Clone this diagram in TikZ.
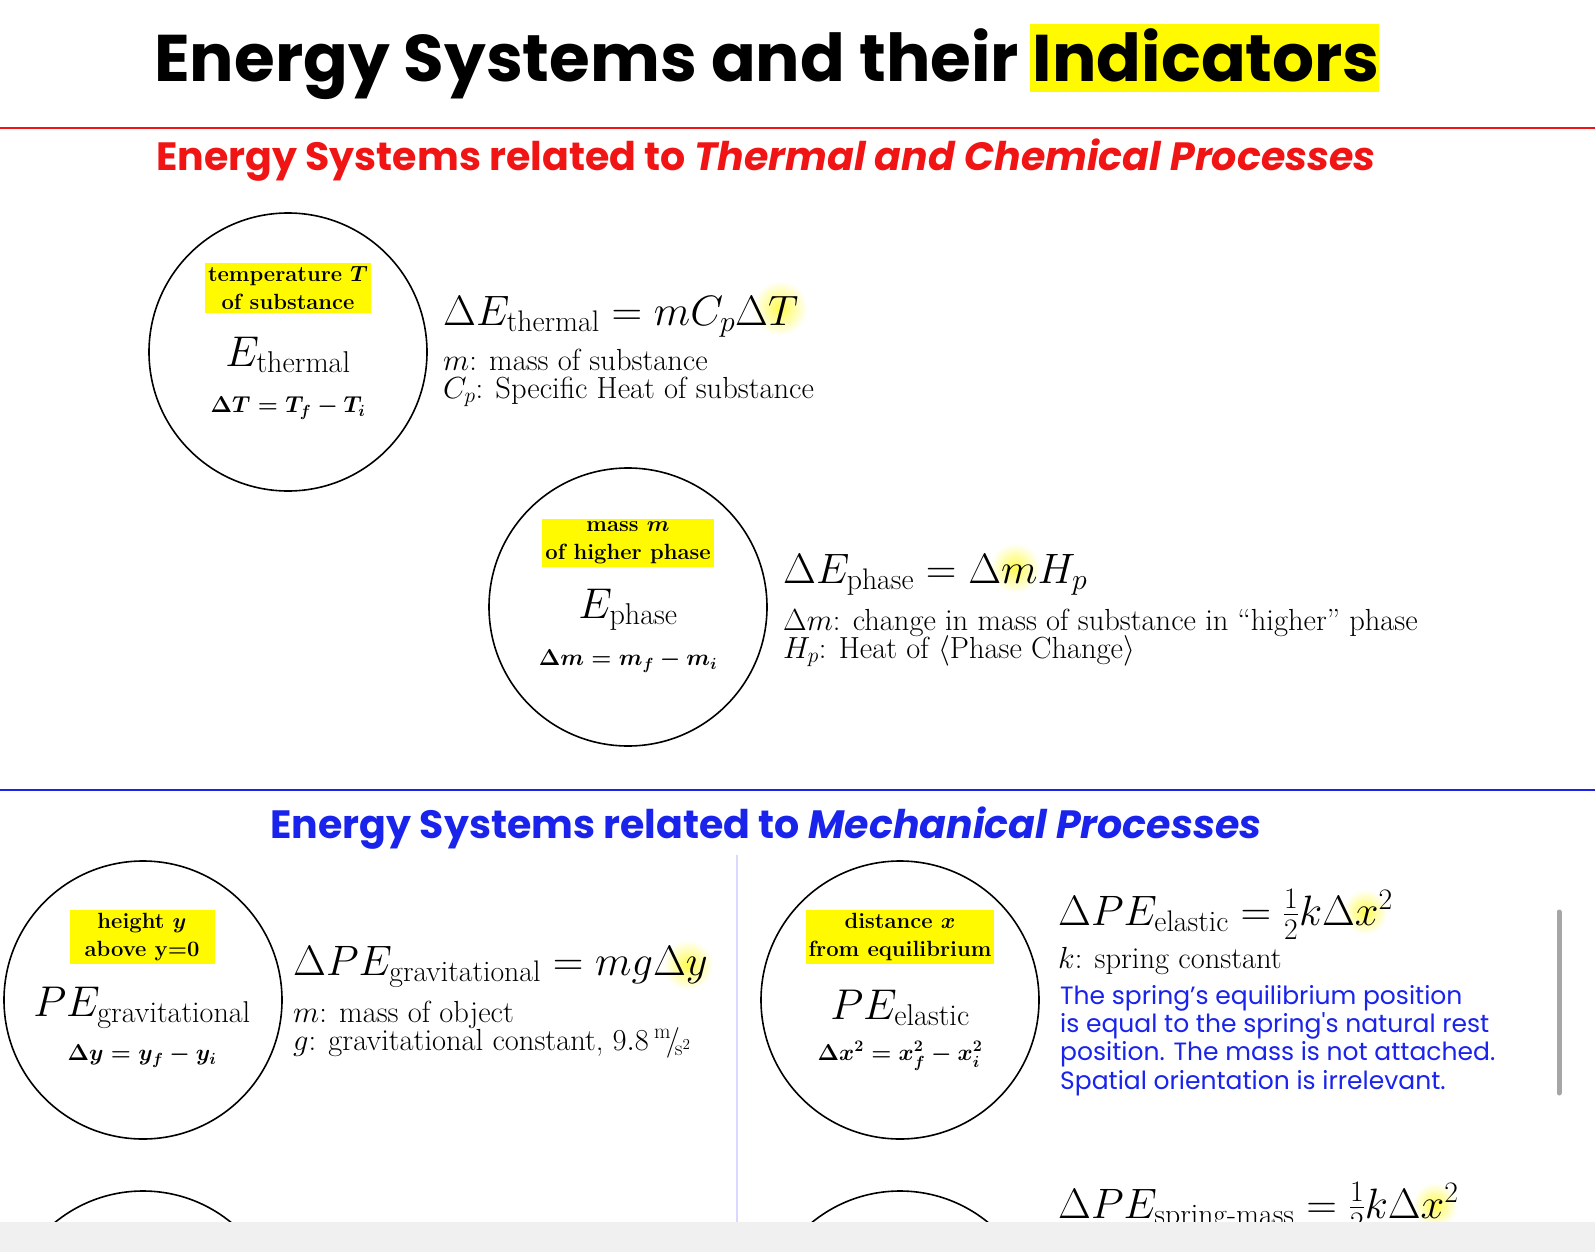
\RequirePackage{fix-cm}
\documentclass[tikz,border=0pt]{standalone}
\usepackage{amsmath}
\usepackage{fontspec}
\newfontfamily\pop{Poppins}
\usetikzlibrary{calc}
\definecolor{hl}{RGB}{255,250,0}
\definecolor{tred}{RGB}{240,20,20}
\definecolor{tblue}{RGB}{25,35,235}
\tikzset{
 circ/.style={draw=black,line width=1.6pt,circle,minimum size=278pt,inner sep=0pt},
 lab/.style={fill=hl,align=center,font=\fontsize{22}{28}\selectfont\bfseries,inner sep=3pt},
 big/.style={font=\fontsize{43}{48}\selectfont},
 small/.style={font=\fontsize{23}{26}\selectfont\boldmath},
 eqn/.style={anchor=base west,font=\fontsize{42.5}{48}\selectfont,inner sep=0pt},
 desc/.style={anchor=base west,font=\fontsize{30.5}{34}\selectfont,inner sep=0pt},
 glow/.style={shading=radial,inner color=hl!70,outer color=white,circle,minimum size=#1,inner sep=0pt},
 bluet/.style={anchor=base west,font=\pop\fontsize{25}{30}\selectfont,text=tblue,inner sep=0pt}
}
\begin{document}
\begin{tikzpicture}[x=1pt,y=-1pt]
\useasboundingbox (0,0) rectangle (1595,1252);
\fill[white] (0,0) rectangle (1595,1252);
% title
\fill[hl] (1030,24) rectangle (1379,92);
\node[anchor=base,inner sep=0pt,font=\pop\bfseries\fontsize{66}{70}\selectfont] (title) at (767,82) {Energy Systems and their Indicators};
\draw[tred,line width=2.5pt] (0,128) -- (1595,128);
\node[anchor=base,inner sep=0pt,text=tred,font=\pop\bfseries\fontsize{39.5}{44}\selectfont] (sub1) at (766,171) {Energy Systems related to \textit{Thermal and Chemical Processes}};
\draw[tblue,line width=2.5pt] (0,790) -- (1595,790);
\node[anchor=base,inner sep=0pt,text=tblue,font=\pop\bfseries\fontsize{39.5}{44}\selectfont] (sub2) at (766,838) {Energy Systems related to \textit{Mechanical Processes}};
\draw[blue!15,line width=2pt] (737,855) -- (737,1222);
% thermal
\node[circ] (c1) at (288,352) {};
\node[lab] (l1) at (288,288) {temperature $\boldsymbol{T}$\\of substance};
\node[big] (e1) at (288,355) {$E_{\text{thermal}}$};
\node[small] (f1) at (288,408) {$\Delta T = T_f - T_i$};
\node[glow=55pt] (g1) at (780,308) {};
\node[eqn] (q1) at (443,325) {$\Delta E_{\text{thermal}} = mC_p\Delta T$};
\node[desc] (d1) at (443,370) {$m$: mass of substance};
\node[desc] (d2) at (443,398) {$C_p$: Specific Heat of substance};
% phase
\node[circ] (c2) at (628,607) {};
\node[lab] (l2) at (628,543) {mass $\boldsymbol{m}$\\of higher phase};
\node[big] (e2) at (628,610) {$E_{\text{phase}}$};
\node[small] (f2) at (628,661) {$\Delta m = m_f - m_i$};
\node[glow=50pt] (g2) at (1015,568) {};
\node[eqn] (q2) at (783,583) {$\Delta E_{\text{phase}} = \Delta mH_p$};
\node[desc] (d3) at (783,630) {$\Delta m$: change in mass of substance in ``higher'' phase};
\node[desc] (d4) at (783,658) {$H_p$: Heat of $\langle$Phase Change$\rangle$};
% gravitational
\node[circ] (c3) at (143,1000) {};
\node[lab,minimum width=145pt] (l3) at (142,937) {height $\boldsymbol{y}$\\above y=0};
\node[big] (e3) at (142,1008) {$PE_{\text{gravitational}}$};
\node[small] (f3) at (142,1056) {$\Delta y = y_f - y_i$};
\node[glow=50pt] (g3) at (688,965) {};
\node[eqn] (q3) at (293,975) {$\Delta PE_{\text{gravitational}} = mg\Delta y$};
\node[desc] (d5) at (293,1022) {$m$: mass of object};
\node[desc] (d6) at (293,1050) {$g$: gravitational constant, $9.8\,{}^{\mathrm{m}}\!/\!{}_{\mathrm{s}^2}$};
% elastic
\node[circ] (c4) at (900,1000) {};
\node[lab,minimum width=185pt] (l4) at (900,937) {distance $\boldsymbol{x}$\\from equilibrium};
\node[big] (e4) at (900,1008) {$PE_{\text{elastic}}$};
\node[small] (f4) at (900,1056) {$\Delta x^2 = x_f^2 - x_i^2$};
\node[glow=45pt] (g4) at (1365,912) {};
\node[eqn] (q4) at (1058,925) {$\Delta PE_{\text{elastic}} = \tfrac{1}{2}k\Delta x^2$};
\node[desc] (d7) at (1058,968) {$k$: spring constant};
\node[bluet] (b1) at (1060,1004) {The spring’s equilibrium position};
\node[bluet] (b2) at (1060,1032) {is equal to the spring's natural rest};
\node[bluet] (b3) at (1060,1060) {position. The mass is not attached.};
\node[bluet] (b4) at (1060,1089) {Spatial orientation is irrelevant.};
% bottom clipped
\begin{scope}
\clip (0,0) rectangle (1595,1222);
\draw[line width=1.6pt] (143,1330) circle (139);
\draw[line width=1.6pt] (900,1330) circle (139);
\node[glow=45pt] (g5) at (1435,1205) {};
\node[eqn] (q5) at (1058,1218) {$\Delta PE_{\text{spring-mass}} = \tfrac{1}{2}k\Delta x^2$};
\end{scope}
\fill[gray!12] (0,1222) rectangle (1595,1252);
\draw[gray!70,line width=5pt,line cap=round] (1559,912) -- (1559,1093);
\end{tikzpicture}
\end{document}
